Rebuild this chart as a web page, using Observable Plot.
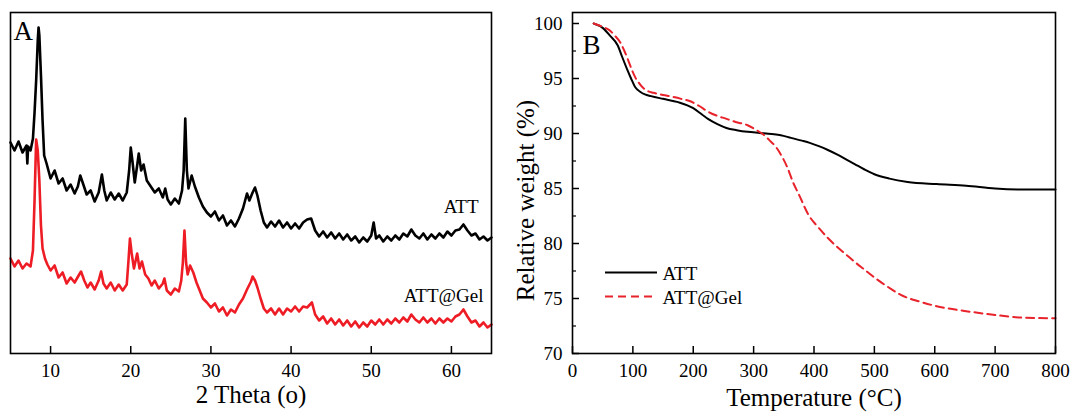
<!DOCTYPE html>
<html><head><meta charset="utf-8">
<script src="https://cdn.jsdelivr.net/npm/d3@7"></script>
<script src="https://cdn.jsdelivr.net/npm/@observablehq/plot@0.6"></script>
<style>
body{margin:0;background:#fff;}
#wrap{position:relative;width:1070px;height:412px;overflow:hidden;}
#a{position:absolute;left:0;top:0;}
#b{position:absolute;left:500px;top:0;}
svg text{font-family:"Liberation Serif","DejaVu Serif",serif;}
</style></head><body><div id="wrap"><div id="a"></div><div id="b"></div></div>
<script>
// ---- Panel A: XRD (2 theta in degrees, intensity in arbitrary units, ATT trace offset above ATT@Gel) ----
const attTheta = [5,5.5,6,6.5,7,7.1,7.2,7.5,7.8,8,8.2,8.4,8.5,8.6,8.8,9,9.2,9.5,10,10.5,11,11.5,12,12.5,13,13.4,13.7,14,14.5,15,15.5,16,16.4,16.7,17,17.5,18,18.5,19,19.5,19.8,20,20.2,20.5,20.8,21,21.3,21.6,22,22.5,23,23.5,24,24.3,24.6,25,25.5,26,26.4,26.6,26.8,27,27.2,27.6,28,28.5,29,29.5,30,30.5,31,31.5,32,32.5,33,33.5,34,34.5,34.8,35.2,35.5,35.8,36.2,36.6,37,37.5,38,38.5,39,39.5,40,40.5,41,41.5,42,42.5,43,43.5,44,44.5,45,45.5,46,46.5,47,47.5,48,48.5,49,49.5,50,50.3,50.6,51,51.5,52,52.5,53,53.5,54,54.5,55,55.5,56,56.5,57,57.5,58,58.5,59,59.5,60,60.5,61,61.5,62,62.5,63,63.5,64,64.5,65];
const attIntensity = [211,203,212,201,208,190,207,203,215,241,273,313,326,318,278,233,198,190,175,183,170,175,163,169,160,167,178,171,159,163,152,161,179,163,153,161,154,160,153,161,183,206,193,171,188,200,183,189,173,167,161,165,156,165,154,149,155,150,163,183,235,183,165,178,167,156,147,141,137,142,133,138,128,133,127,135,145,160,153,161,166,158,143,131,126,132,127,133,126,131,125,130,125,131,134,135,123,117,122,116,121,115,120,114,119,113,117,111,116,112,118,131,115,118,112,117,113,118,114,120,117,124,118,115,120,114,119,115,120,116,122,118,123,124,129,123,118,120,114,117,113,116];
const gelTheta = [5,5.5,6,6.5,7,7.5,7.8,8,8.2,8.4,8.6,8.8,9,9.3,9.6,10,10.5,11,11.5,12,12.5,13,13.5,13.8,14.2,14.6,15,15.5,16,16.3,16.6,17,17.5,18,18.5,19,19.5,19.7,19.9,20.1,20.4,20.8,21.1,21.4,21.8,22.2,22.6,23,23.5,24,24.2,24.5,25,25.5,26,26.3,26.5,26.7,26.9,27.1,27.4,27.8,28.2,28.6,29,29.5,30,30.5,31,31.5,32,32.5,33,33.5,34,34.5,35,35.2,35.5,35.8,36.2,36.6,37,37.5,38,38.5,39,39.5,40,40.5,41,41.5,42,42.6,43,43.5,44,44.5,45,45.5,46,46.5,47,47.5,48,48.5,49,49.5,50,50.5,51,51.5,52,52.5,53,53.5,54,54.5,55,55.5,56,56.5,57,57.5,58,58.5,59,59.5,60,60.5,61,61.5,62,62.5,63,63.5,64,64.5,65];
const gelIntensity = [95,87,93,85,90,87,103,153,214,203,173,128,105,95,89,83,88,76,81,70,76,71,78,82,73,66,71,64,73,82,70,65,71,63,69,63,69,91,115,101,85,100,85,92,79,75,68,73,65,70,75,63,59,65,62,73,91,123,91,79,88,81,71,63,55,51,46,50,42,46,38,44,41,49,55,64,72,77,73,66,55,45,41,45,39,45,39,45,42,47,42,47,46,51,39,33,37,30,35,29,34,28,33,27,32,26,31,27,33,29,34,29,34,30,35,31,36,32,39,34,31,36,31,35,30,35,31,35,32,37,39,44,37,31,33,27,31,26,29];
const thetaTicks = [10,20,30,40,50,60];

// ---- Panel B: TGA ----
const attTemp = [35,50,62,75,82,90,97,104,112,120,130,150,175,200,215,225,240,255,272,290,310,330,345,362,380,393,408,423,438,453,468,483,500,525,555,603,652,700,748,800];
const attWeight = [100.0,99.6,98.9,98.0,97.0,95.9,95.0,94.2,93.8,93.55,93.4,93.15,92.85,92.3,91.7,91.3,90.85,90.5,90.3,90.15,90.05,89.95,89.85,89.6,89.35,89.15,88.85,88.5,88.1,87.65,87.2,86.75,86.3,85.9,85.6,85.4,85.25,85.0,84.9,84.9];
const gelTemp = [35,50,61,70,80,86,92,99,104,110,116,125,134,150,164,180,194,210,224,240,254,270,290,305,314,326,338,347,356,365,375,392,405,423,438,453,468,483,498,513,528,543,558,573,603,652,700,748,800];
const gelWeight = [100.0,99.7,99.4,98.9,98.2,97.5,96.7,95.7,95.1,94.6,94.2,93.85,93.7,93.5,93.35,93.15,92.95,92.5,92.0,91.6,91.35,91.05,90.75,90.3,90.0,89.4,88.7,87.9,86.9,85.6,84.45,82.5,81.6,80.5,79.7,79.0,78.3,77.65,77.0,76.4,75.85,75.35,75.0,74.75,74.3,73.85,73.5,73.25,73.2];
const tempTicks = [0,100,200,300,400,500,600,700,800];
const weightTicks = [70,75,80,85,90,95,100];
const weightMinor = [72.5,77.5,82.5,87.5,92.5,97.5];
const seriesNames = ["ATT","ATT@Gel"];

const BLACK = "#000";
const RED_A = "#ee1c24";
const RED_B = "#e8232b";
const FONT = "Liberation Serif";

const attRows = attTheta.map((t,i)=>({theta:t, I:attIntensity[i]}));
const gelRows = gelTheta.map((t,i)=>({theta:t, I:gelIntensity[i]}));
const attTga = attTemp.map((t,i)=>({T:t, w:attWeight[i]}));
const gelTga = gelTemp.map((t,i)=>({T:t, w:gelWeight[i]}));

const mT = 12, mB = 59, H = 412;
const frameH = H - mT - mB;

// Panel A
const wA = 500, mLA = 10, mRA = 9;
const plotA = Plot.plot({
  width: wA, height: H, marginLeft: mLA, marginRight: mRA, marginTop: mT, marginBottom: mB,
  style: {fontFamily: FONT, fontSize: "19px", background: "white", color: "black"},
  x: {domain: [5, 65]},
  y: {domain: [0, 341], axis: null},
  marks: [
    Plot.line(attRows, {x: "theta", y: "I", stroke: BLACK, strokeWidth: 2.6}),
    Plot.line(gelRows, {x: "theta", y: "I", stroke: RED_A, strokeWidth: 2.6}),
    Plot.tickX(thetaTicks, {x: d=>d, insetTop: frameH - 7, stroke: BLACK, strokeWidth: 1.5}),
    Plot.axisX({ticks: thetaTicks, tickSize: 0, tickPadding: 10, label: null, fontSize: 19, fontFamily: FONT}),
    Plot.frame({stroke: BLACK, strokeWidth: 1.6}),
    Plot.text(["A"], {text: d=>d, frameAnchor: "top-left", dx: 3, dy: 27, lineAnchor: "bottom", textAnchor: "start", fontSize: 27}),
    Plot.text([seriesNames[0]], {text: d=>d, frameAnchor: "top-right", dx: -13, dy: 200, lineAnchor: "bottom", textAnchor: "end", fontSize: 19}),
    Plot.text([seriesNames[1]], {text: d=>d, frameAnchor: "top-right", dx: -8, dy: 289, lineAnchor: "bottom", textAnchor: "end", fontSize: 19}),
    Plot.text(["2 Theta (o)"], {text: d=>d, frameAnchor: "bottom", dy: 49, lineAnchor: "bottom", textAnchor: "middle", fontSize: 25})
  ]
});
document.getElementById("a").append(plotA);

// Panel B
const wB = 570, mLB = 72, mRB = 15;
const frameW = wB - mLB - mRB;
const plotB = Plot.plot({
  width: wB, height: H, marginLeft: mLB, marginRight: mRB, marginTop: mT, marginBottom: mB,
  style: {fontFamily: FONT, fontSize: "19px", background: "white", color: "black"},
  x: {domain: [0, 800]},
  y: {domain: [70, 101]},
  marks: [
    Plot.line(attTga, {x: "T", y: "w", stroke: BLACK, strokeWidth: 2, curve: "monotone-x"}),
    Plot.line(gelTga, {x: "T", y: "w", stroke: RED_B, strokeWidth: 2, strokeDasharray: "8,5", curve: "monotone-x"}),
    Plot.tickX(tempTicks, {x: d=>d, insetTop: frameH - 7, stroke: BLACK, strokeWidth: 1.5}),
    Plot.tickY(weightTicks, {y: d=>d, insetRight: frameW - 7, stroke: BLACK, strokeWidth: 1.5}),
    Plot.tickY(weightMinor, {y: d=>d, insetRight: frameW - 4, stroke: BLACK, strokeWidth: 1.2}),
    Plot.axisX({ticks: tempTicks, tickSize: 0, tickPadding: 10, label: null, fontSize: 19, fontFamily: FONT}),
    Plot.axisY({ticks: weightTicks, tickSize: 0, tickPadding: 10, label: null, fontSize: 19, fontFamily: FONT}),
    Plot.frame({stroke: BLACK, strokeWidth: 1.6}),
    Plot.text(["B"], {text: d=>d, frameAnchor: "top-left", dx: 10, dy: 41, lineAnchor: "bottom", textAnchor: "start", fontSize: 27}),
    Plot.text([seriesNames[0]], {text: d=>d, frameAnchor: "top-left", dx: 90, dy: 267, lineAnchor: "bottom", textAnchor: "start", fontSize: 19}),
    Plot.text([seriesNames[1]], {text: d=>d, frameAnchor: "top-left", dx: 90, dy: 291, lineAnchor: "bottom", textAnchor: "start", fontSize: 19}),
    Plot.text(["Temperature (°C)"], {text: d=>d, frameAnchor: "bottom", dy: 52, lineAnchor: "bottom", textAnchor: "middle", fontSize: 25}),
    Plot.text(["Relative weight (%)"], {text: d=>d, frameAnchor: "left", dx: -39, dy: 17.5, rotate: -90, lineAnchor: "bottom", textAnchor: "middle", fontSize: 25})
  ]
});
// legend swatches
const sB = d3.select(plotB);
sB.append("line").attr("x1", 105).attr("x2", 157).attr("y1", 272.5).attr("y2", 272.5)
  .attr("stroke", BLACK).attr("stroke-width", 2);
sB.append("line").attr("x1", 105).attr("x2", 157).attr("y1", 296.5).attr("y2", 296.5)
  .attr("stroke", RED_B).attr("stroke-width", 2).attr("stroke-dasharray", "8,5");
document.getElementById("b").append(plotB);
</script>
</body></html>
